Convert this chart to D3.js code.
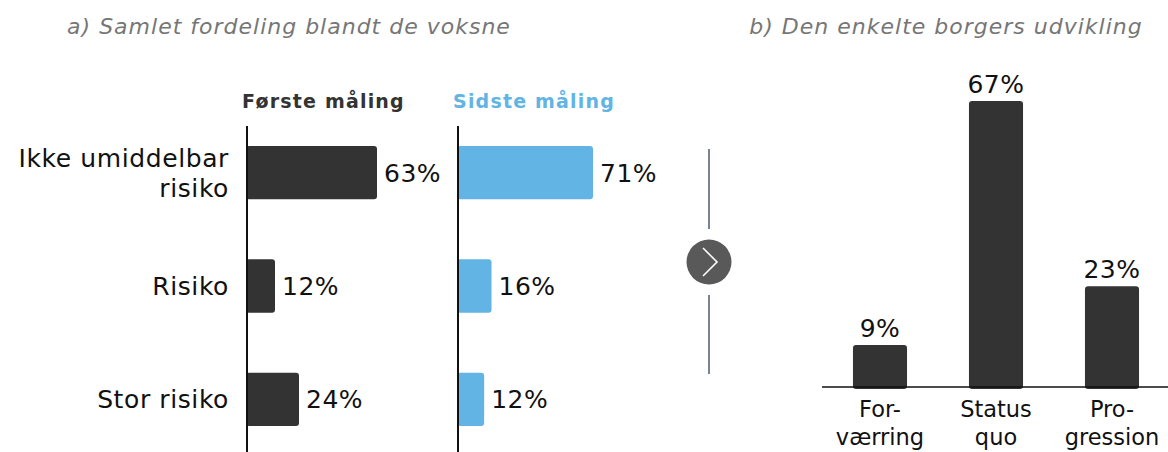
<!DOCTYPE html>
<html>
<head>
<meta charset="utf-8">
<script src="https://cdn.jsdelivr.net/npm/d3@7"></script>
<style>
  body { margin: 0; background: #fff; }
  svg { display: block; font-family: "DejaVu Sans", Verdana, sans-serif; }
</style>
</head>
<body>
<div id="chart"></div>
<script>
// data
const riskLabels = [["Ikke umiddelbar", "risiko"], ["Risiko"], ["Stor risiko"]];
const firstValues = [63, 12, 24];
const lastValues = [71, 16, 12];
const devLabels = [["For-", "værring"], ["Status", "quo"], ["Pro-", "gression"]];
const devValues = [9, 67, 23];

const width = 1168, height = 452;
const dark = "#333333", blue = "#62b4e4", grey = "#767676";

const svg = d3.select("#chart").append("svg")
    .attr("width", width)
    .attr("height", height);

// titles
svg.append("text").attr("x", 289).attr("y", 34)
    .attr("text-anchor", "middle").attr("font-style", "italic")
    .attr("font-size", 22).attr("letter-spacing", 1).attr("fill", grey)
    .text("a) Samlet fordeling blandt de voksne");
svg.append("text").attr("x", 946).attr("y", 34)
    .attr("text-anchor", "middle").attr("font-style", "italic")
    .attr("font-size", 22).attr("letter-spacing", 1).attr("fill", grey)
    .text("b) Den enkelte borgers udvikling");

// panel a: rows
const y = d3.scaleBand()
    .domain(d3.range(riskLabels.length))
    .range([116, 456])
    .paddingInner(0.53)
    .paddingOuter(0.265);

const panels = [
    { x0: 247, values: firstValues, color: dark, title: "Første måling", titleX: 242, range: [4, 130] },
    { x0: 458, values: lastValues, color: blue, title: "Sidste måling", titleX: 453, range: [4, 135] }
];

panels.forEach(p => {
    const x = d3.scaleLinear().domain([0, d3.max(p.values)]).range(p.range);
    const g = svg.append("g");

    g.append("text").attr("x", p.titleX).attr("y", 108)
        .attr("font-size", 19).attr("font-weight", "bold")
        .attr("letter-spacing", 1.2)
        .attr("fill", p.color).text(p.title);

    g.selectAll("rect").data(p.values).enter().append("rect")
        .attr("x", p.x0 - 1)
        .attr("y", (d, i) => y(i))
        .attr("width", d => x(d) + 1)
        .attr("height", y.bandwidth())
        .attr("rx", 3)
        .attr("fill", p.color);

    g.selectAll("text.val").data(p.values).enter().append("text")
        .attr("class", "val")
        .attr("x", d => p.x0 + x(d) + 7)
        .attr("y", (d, i) => y(i) + y.bandwidth() / 2)
        .attr("dy", "0.36em")
        .attr("font-size", 25).attr("letter-spacing", 0.5)
        .attr("fill", "#111")
        .text(d => d + "%");

    g.append("line")
        .attr("x1", p.x0).attr("x2", p.x0)
        .attr("y1", 126).attr("y2", height)
        .attr("stroke", "#111").attr("stroke-width", 2);
});

// category labels
const cat = svg.append("g");
riskLabels.forEach((lines, i) => {
    const cy = y(i) + y.bandwidth() / 2;
    const t = cat.append("text")
        .attr("text-anchor", "end")
        .attr("font-size", 25).attr("letter-spacing", 0.6)
        .attr("fill", "#111");
    lines.forEach((s, k) => {
        t.append("tspan")
            .attr("x", 229)
            .attr("y", cy + (k - (lines.length - 1) / 2) * 30)
            .attr("dy", "0.36em")
            .text(s);
    });
});

// connector with arrow
const cx = 709, cyc = 262;
svg.append("line").attr("x1", cx).attr("x2", cx).attr("y1", 149).attr("y2", 229)
    .attr("stroke", "#4b5a70").attr("stroke-width", 1.5);
svg.append("line").attr("x1", cx).attr("x2", cx).attr("y1", 295).attr("y2", 374)
    .attr("stroke", "#4b5a70").attr("stroke-width", 1.5);
svg.append("circle").attr("cx", cx).attr("cy", cyc).attr("r", 22.5).attr("fill", "#595959");
svg.append("path")
    .attr("d", `M${cx - 6},${cyc - 14}L${cx + 8},${cyc}L${cx - 6},${cyc + 14}`)
    .attr("fill", "none").attr("stroke", "#fff").attr("stroke-width", 1.6);

// panel b: columns
const base = 387;
const xb = d3.scaleBand()
    .domain(d3.range(devValues.length))
    .range([822, 1170])
    .paddingInner(0.534)
    .paddingOuter(0.267);
const yb = d3.scaleLinear().domain([0, d3.max(devValues)]).range([base - 4, 101]);

svg.append("g").selectAll("rect").data(devValues).enter().append("rect")
    .attr("x", (d, i) => xb(i))
    .attr("y", d => yb(d))
    .attr("width", xb.bandwidth())
    .attr("height", d => base + 2 - yb(d))
    .attr("rx", 3)
    .attr("fill", dark);

svg.append("line").attr("x1", 822).attr("x2", width)
    .attr("y1", base).attr("y2", base)
    .attr("stroke", "#111").attr("stroke-width", 1.5);

svg.append("g").selectAll("text").data(devValues).enter().append("text")
    .attr("x", (d, i) => xb(i) + xb.bandwidth() / 2)
    .attr("y", d => yb(d) - 8)
    .attr("text-anchor", "middle")
    .attr("font-size", 25).attr("letter-spacing", 0.5)
    .attr("fill", "#111")
    .text(d => d + "%");

devLabels.forEach((lines, i) => {
    const t = svg.append("text")
        .attr("text-anchor", "middle")
        .attr("font-size", 22.5).attr("fill", "#111");
    lines.forEach((s, k) => {
        t.append("tspan")
            .attr("x", xb(i) + xb.bandwidth() / 2)
            .attr("y", 417 + k * 28)
            .text(s);
    });
});
</script>
</body>
</html>
